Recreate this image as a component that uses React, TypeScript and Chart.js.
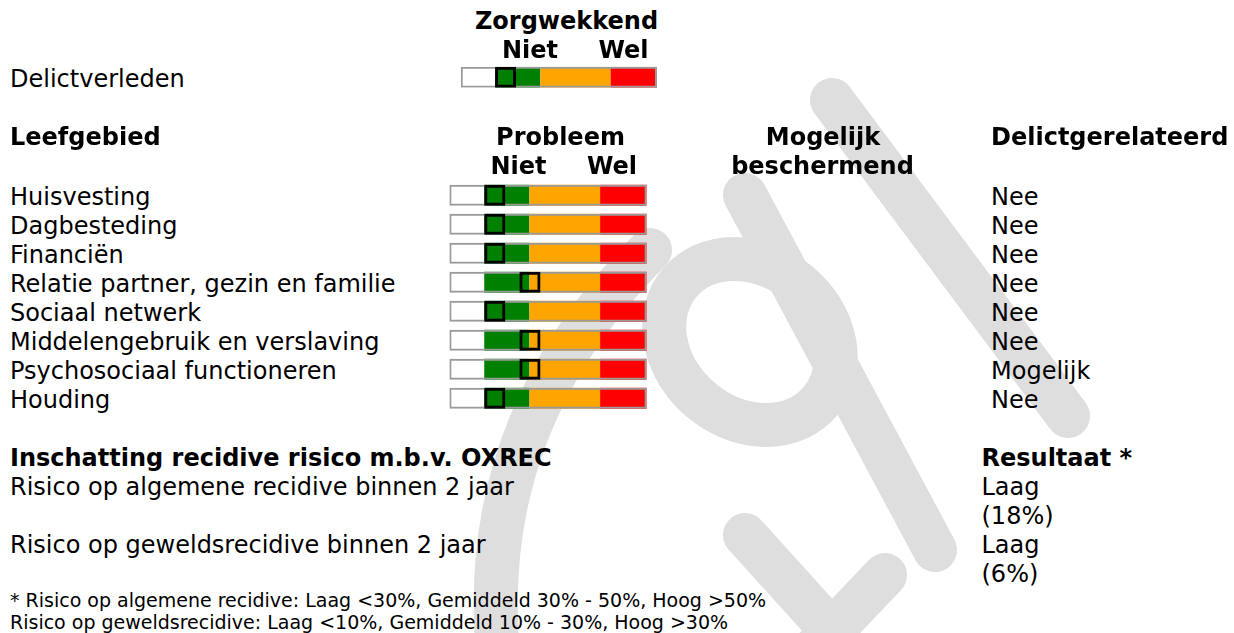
import React, { useEffect, useRef } from "react";
import { Chart, registerables } from "chart.js";

Chart.register(...registerables);

// ---------- data ----------
const domains = [
  "Huisvesting",
  "Dagbesteding",
  "Financiën",
  "Relatie partner, gezin en familie",
  "Sociaal netwerk",
  "Middelengebruik en verslaving",
  "Psychosociaal functioneren",
  "Houding",
];
const beschermend = ["", "", "", "", "", "", "", ""];
const delictgerelateerd = ["Nee", "Nee", "Nee", "Nee", "Nee", "Nee", "Mogelijk", "Nee"];

// scale 0..100 : white | green | orange | red
const bandEdges = [0, 17.7, 40.6, 76.4, 100];
const bandColors = ["#ffffff", "#008000", "#ffa500", "#ff0000"];

// marker start position per domain, and its width (same units)
const domainMarker = [17.7, 17.7, 17.7, 35.5, 17.7, 35.5, 35.5, 17.7];
const delictLabel = ["Delictverleden"];
const delictMarker = [17.5];
const markerWidth = 10.7;

const oxrecLabels = [
  "Risico op algemene recidive binnen 2 jaar",
  "Risico op geweldsrecidive binnen 2 jaar",
];
const oxrecLevel = ["Laag", "Laag"];
const oxrecPct = ["(18%)", "(6%)"];
const footnotes = [
  "* Risico op algemene recidive: Laag <30%, Gemiddeld 30% - 50%, Hoog >50%",
  "Risico op geweldsrecidive: Laag <10%, Gemiddeld 10% - 30%, Hoog >30%",
];

// ---------- chart helper ----------
function buildConfig(labels: string[], markers: number[], barPct: number, padding: any) {
  const segs = bandColors.map((c, i) => ({
    data: labels.map(() => [bandEdges[i], bandEdges[i + 1]]),
    backgroundColor: c,
    borderWidth: 0,
    grouped: false,
    order: 10 - i,
    inflateAmount: 0,
  }));
  const outline = {
    data: labels.map(() => [bandEdges[0], bandEdges[bandEdges.length - 1]]),
    backgroundColor: "rgba(0,0,0,0)",
    borderColor: "#9a9a9a",
    borderWidth: 2,
    borderSkipped: false,
    grouped: false,
    order: 2,
    inflateAmount: 0,
  };
  const marker = {
    data: markers.map((m) => [m, m + markerWidth]),
    backgroundColor: "rgba(0,0,0,0)",
    borderColor: "#000000",
    borderWidth: 3,
    borderSkipped: false,
    grouped: false,
    order: 1,
    inflateAmount: 0,
  };
  return {
    type: "bar" as const,
    data: { labels, datasets: [marker, outline, ...segs] as any },
    options: {
      indexAxis: "y" as const,
      responsive: false,
      animation: false as const,
      devicePixelRatio: 1,
      layout: { padding },
      datasets: { bar: { categoryPercentage: 1, barPercentage: barPct } },
      scales: {
        x: { type: "linear" as const, min: 0, max: 100, display: false },
        y: { type: "category" as const, display: false },
      },
      plugins: { legend: { display: false }, tooltip: { enabled: false } },
    },
  };
}

function BarChart(props: {
  labels: string[];
  markers: number[];
  barPct: number;
  padding: any;
  left: number;
  top: number;
  width: number;
  height: number;
}) {
  const ref = useRef<HTMLCanvasElement | null>(null);
  useEffect(() => {
    if (!ref.current) return;
    const chart = new Chart(ref.current, buildConfig(props.labels, props.markers, props.barPct, props.padding) as any);
    return () => chart.destroy();
  }, []);
  return (
    <canvas
      ref={ref}
      width={props.width}
      height={props.height}
      style={{ position: "absolute", left: props.left, top: props.top, width: props.width, height: props.height, zIndex: 2 }}
    />
  );
}

// ---------- text helper ----------
const FONT = "Verdana, 'DejaVu Sans', sans-serif";
function T(props: { x: number; base: number; text: string; bold?: boolean; size?: number; center?: boolean }) {
  const F = props.size ?? 24;
  const L = Math.round(F * 1.2);
  const top = props.base - ((L - 1.164 * F) / 2 + 0.928 * F);
  const style: any = {
    position: "absolute",
    top,
    fontFamily: FONT,
    fontSize: F,
    lineHeight: L + "px",
    fontWeight: props.bold ? "bold" : "normal",
    whiteSpace: "nowrap",
    color: "#000",
    zIndex: 3,
  };
  if (props.center) {
    style.left = props.x - 200;
    style.width = 400;
    style.textAlign = "center";
  } else {
    style.left = props.x;
  }
  return <div style={style}>{props.text}</div>;
}

function Watermark() {
  const g = "#dedede";
  return (
    <svg width={1234} height={633} style={{ position: "absolute", left: 0, top: 0, zIndex: 1 }}>
      <g fill="none" stroke={g} strokeWidth={44} strokeLinecap="round" strokeLinejoin="round">
        <line x1={832} y1={100} x2={1068} y2={416} />
        <line x1={745} y1={195} x2={935} y2={550} />
        <ellipse cx={750} cy={342} rx={92} ry={76} transform="rotate(40 750 342)" />
        <path d="M 500 670 Q 470 430 650 250" />
        <line x1={885} y1={575} x2={785} y2={680} />
        <line x1={745} y1={535} x2={840} y2={640} />
      </g>
    </svg>
  );
}

export default function App() {
  const rowBase0 = 206;
  const pitch = 29;
  return (
    <div style={{ position: "absolute", left: 0, top: 0, width: 1234, height: 633, background: "#fff", overflow: "hidden" }}>
      <Watermark />
      {/* Delictverleden block */}
      <T x={566.5} base={30} text="Zorgwekkend" bold center />
      <T x={530} base={58.5} text="Niet" bold center />
      <T x={623.5} base={58.5} text="Wel" bold center />
      <T x={10} base={87.5} text={delictLabel[0]} />
      <BarChart
        labels={delictLabel}
        markers={delictMarker}
        barPct={1}
        padding={{ left: 10.7, right: 13, top: 10.7, bottom: 10.3 }}
        left={450}
        top={56}
        width={220}
        height={42}
      />

      {/* Leefgebied headers */}
      <T x={10} base={145.5} text="Leefgebied" bold />
      <T x={560.5} base={145.5} text="Probleem" bold center />
      <T x={518.5} base={174.5} text="Niet" bold center />
      <T x={612} base={174.5} text="Wel" bold center />
      <T x={823} base={145.5} text="Mogelijk" bold center />
      <T x={822.5} base={174.5} text="beschermend" bold center />
      <T x={991} base={145.5} text="Delictgerelateerd" bold />

      {domains.map((d, i) => (
        <T key={"d" + i} x={10} base={rowBase0 + pitch * i} text={d} />
      ))}
      {beschermend.map((d, i) => (
        <T key={"b" + i} x={760} base={rowBase0 + pitch * i} text={d} />
      ))}
      {delictgerelateerd.map((d, i) => (
        <T key={"r" + i} x={991} base={rowBase0 + pitch * i} text={d} />
      ))}
      <BarChart
        labels={domains}
        markers={domainMarker}
        barPct={21 / 29}
        padding={{ left: 9.3, right: 13.3, top: 10.7, bottom: 9.3 }}
        left={440}
        top={170}
        width={220}
        height={252}
      />

      {/* OXREC */}
      <T x={10} base={467} text="Inschatting recidive risico m.b.v. OXREC" bold />
      <T x={981.5} base={467} text="Resultaat *" bold />
      <T x={10} base={496} text={oxrecLabels[0]} />
      <T x={981.5} base={496} text={oxrecLevel[0]} />
      <T x={981.5} base={525} text={oxrecPct[0]} />
      <T x={10} base={554} text={oxrecLabels[1]} />
      <T x={981.5} base={554} text={oxrecLevel[1]} />
      <T x={981.5} base={583} text={oxrecPct[1]} />

      <T x={10} base={607} text={footnotes[0]} size={19} />
      <T x={10} base={629.5} text={footnotes[1]} size={19} />
    </div>
  );
}
